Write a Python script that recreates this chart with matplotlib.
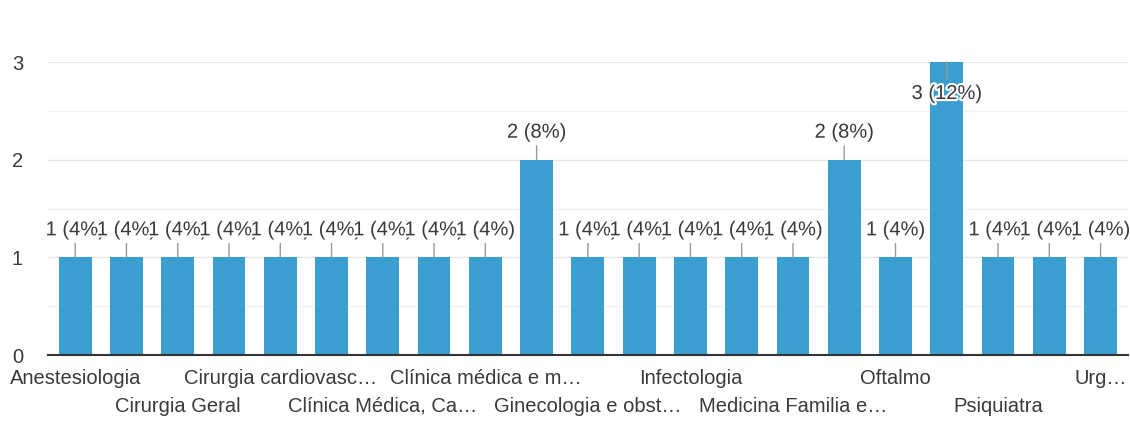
import matplotlib
matplotlib.use("Agg")
import matplotlib.pyplot as plt
import matplotlib.patheffects as pe
from matplotlib.ticker import MultipleLocator, FixedLocator, FixedFormatter

plt.rcParams['font.family'] = ['Liberation Sans', 'DejaVu Sans']

values = [1, 1, 1, 1, 1, 1, 1, 1, 1, 2, 1, 1, 1, 1, 1, 2, 1, 3, 1, 1, 1]
total = 25
row1_pos = [0, 4, 8, 12, 16, 20]
row1_labels = ["Anestesiologia", "Cirurgia cardiovasc…", "Clínica médica e m…",
               "Infectologia", "Oftalmo", "Urg…"]
row2_pos = [2, 6, 10, 14, 18]
row2_labels = ["Cirurgia Geral", "Clínica Médica, Ca…", "Ginecologia e obst…",
               "Medicina Familia e…", "Psiquiatra"]

bar_color = "#3a9ed0"
text_color = "#3a3a3a"
fs = 14.5

fig = plt.figure(figsize=(11.3, 4.43), dpi=100)
ax = fig.add_axes([0.0425, 0.1986, 0.9555, 0.6614])

x = list(range(len(values)))
ax.bar(x, values, width=0.64, color=bar_color, zorder=2)

ax.set_xlim(-0.53, len(values) - 1 + 0.53)
ax.set_ylim(0, 3)
ax.yaxis.set_major_locator(MultipleLocator(1))
ax.yaxis.set_minor_locator(MultipleLocator(0.5))
ax.grid(axis='y', which='major', color='#e6e6e6', lw=1, zorder=0)
ax.grid(axis='y', which='minor', color='#f2f2f2', lw=1, zorder=0)
ax.tick_params(axis='y', which='both', length=0, labelsize=fs, labelcolor=text_color, pad=18)

for s in ['top', 'right', 'left']:
    ax.spines[s].set_visible(False)
ax.spines['bottom'].set_color('#333333')
ax.spines['bottom'].set_linewidth(1.5)
ax.spines['bottom'].set_zorder(3)

ax.xaxis.set_major_locator(FixedLocator(row1_pos))
ax.xaxis.set_major_formatter(FixedFormatter(row1_labels))
ax.xaxis.set_minor_locator(FixedLocator(row2_pos))
ax.xaxis.set_minor_formatter(FixedFormatter(row2_labels))
ax.tick_params(axis='x', which='major', length=0, pad=10, labelsize=fs, labelcolor=text_color)
ax.tick_params(axis='x', which='minor', length=0, pad=30, labelsize=fs, labelcolor=text_color)

halo = [pe.withStroke(linewidth=3, foreground='white')]
for xi, v in zip(x, values):
    label = f"{v} ({round(v * 100 / total)}%)"
    if v >= 3:
        off, va = -22, 'top'
    else:
        off, va = 18, 'bottom'
    ax.annotate(label, xy=(xi, v), xytext=(0, off), textcoords='offset pixels',
                ha='center', va=va, fontsize=fs, color=text_color,
                path_effects=halo, zorder=5, annotation_clip=False,
                arrowprops=dict(arrowstyle='-', color='#999999', lw=1,
                                shrinkA=1, shrinkB=0))

fig.savefig("out.png", dpi=100, facecolor='white')
